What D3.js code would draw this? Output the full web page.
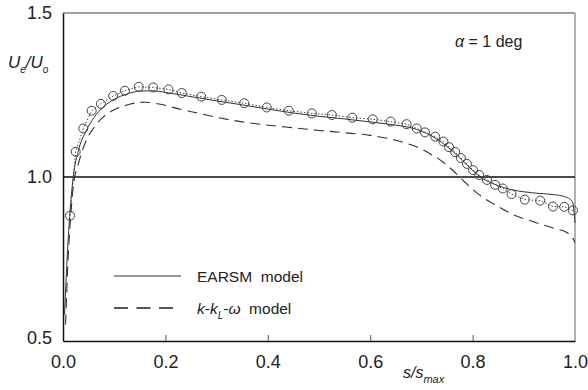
<!DOCTYPE html>
<html><head><meta charset="utf-8">
<script src="https://cdn.jsdelivr.net/npm/d3@7"></script>
<style>body{margin:0;background:#fff}svg{display:block}text{font-family:"Liberation Sans",Arial,sans-serif;fill:#222}</style>
</head><body><svg id="c" width="588" height="390"></svg>
<script>
const xTicks=[0,0.2,0.4,0.6,0.8,1.0];
const yTicks=[0.5,1.0,1.5];
const expX=[0.0137,0.0248,0.0396,0.056,0.074,0.098,0.121,0.148,0.176,0.206,0.232,0.270,0.310,0.354,0.398,0.441,0.486,0.525,0.565,0.605,0.640,0.671,0.691,0.707,0.727,0.743,0.754,0.766,0.777,0.789,0.801,0.813,0.828,0.844,0.859,0.876,0.902,0.932,0.957,0.979,0.996];
const expY=[0.882,1.077,1.148,1.202,1.223,1.247,1.263,1.275,1.273,1.267,1.256,1.245,1.235,1.225,1.212,1.202,1.194,1.189,1.181,1.176,1.169,1.161,1.148,1.136,1.123,1.108,1.091,1.076,1.058,1.040,1.021,1.006,0.991,0.976,0.965,0.948,0.931,0.928,0.910,0.909,0.898];
const earsmX=[0.003,0.008,0.013,0.02,0.03,0.045,0.06,0.08,0.1,0.125,0.15,0.175,0.2,0.25,0.3,0.35,0.4,0.45,0.5,0.55,0.6,0.65,0.68,0.7,0.72,0.74,0.76,0.78,0.8,0.82,0.84,0.86,0.88,0.9,0.93,0.96,0.98,0.995,1.0];
const earsmY=[0.58,0.75,0.88,1.0,1.08,1.14,1.18,1.215,1.237,1.253,1.262,1.263,1.258,1.245,1.232,1.22,1.207,1.195,1.185,1.177,1.168,1.158,1.15,1.14,1.125,1.105,1.08,1.05,1.02,0.995,0.98,0.968,0.96,0.955,0.95,0.946,0.94,0.925,0.86];
const kklX=[0.005,0.01,0.015,0.02,0.03,0.045,0.06,0.08,0.1,0.13,0.16,0.19,0.22,0.26,0.3,0.35,0.4,0.45,0.5,0.55,0.6,0.65,0.68,0.7,0.72,0.74,0.76,0.78,0.8,0.82,0.85,0.88,0.92,0.96,0.985,0.995,1.0];
const kklY=[0.55,0.75,0.88,0.97,1.04,1.11,1.15,1.185,1.205,1.222,1.228,1.222,1.21,1.196,1.182,1.168,1.158,1.15,1.142,1.135,1.127,1.112,1.098,1.085,1.068,1.048,1.022,0.992,0.962,0.938,0.91,0.885,0.863,0.843,0.83,0.815,0.80];

const svg=d3.select("#c");
const x=d3.scaleLinear().domain([0,1]).range([63,575]);
const y=d3.scaleLinear().domain([0.5,1.5]).range([341,13]);

// frame
svg.append("line").attr("x1",63).attr("x2",575).attr("y1",13).attr("y2",13).attr("stroke","#444").attr("stroke-width",1);
svg.append("line").attr("x1",575).attr("x2",575).attr("y1",13).attr("y2",341).attr("stroke","#999").attr("stroke-width",1.5);
svg.append("line").attr("x1",x(0)).attr("x2",x(1)).attr("y1",y(1)).attr("y2",y(1)).attr("stroke","#111").attr("stroke-width",1.3);

const gx=svg.append("g").attr("transform",`translate(0,${y(0.5)})`)
  .call(d3.axisBottom(x).tickValues(xTicks).tickSizeInner(-6).tickSizeOuter(0).tickPadding(14).tickFormat(d3.format(".1f")));
gx.select(".domain").attr("stroke","#111").attr("stroke-width",1.5);
gx.selectAll(".tick line").attr("stroke","#555").filter(d=>d===0||d===1).remove();
gx.selectAll("text").attr("font-size",18).attr("fill","#222").attr("font-family","Liberation Sans, Arial, sans-serif");

const gy=svg.append("g").attr("transform",`translate(${x(0)},0)`)
  .call(d3.axisLeft(y).tickValues(yTicks).tickSize(0).tickPadding(11).tickFormat(d3.format(".1f")));
gy.select(".domain").attr("stroke","#111").attr("stroke-width",1.5);
gy.selectAll("text").attr("font-size",18).attr("fill","#222").attr("font-family","Liberation Sans, Arial, sans-serif");
gy.selectAll(".tick").filter(d=>d===0.5).select("text").attr("dy","0.15em");

const lineGen=d3.line().x(d=>x(d[0])).y(d=>y(d[1])).curve(d3.curveMonotoneX);
const earsm=earsmX.map((v,i)=>[v,earsmY[i]]);
const kkl=kklX.map((v,i)=>[v,kklY[i]]);
const exp=expX.map((v,i)=>[v,expY[i]]);

svg.append("path").datum(earsm).attr("d",lineGen).attr("fill","none").attr("stroke","#333").attr("stroke-width",1);
svg.append("path").datum(kkl).attr("d",lineGen).attr("fill","none").attr("stroke","#333").attr("stroke-width",1.1).attr("stroke-dasharray","10,6");
svg.append("path").datum(exp).attr("d",d3.line().x(d=>x(d[0])).y(d=>y(d[1]))).attr("fill","none").attr("stroke","#444").attr("stroke-width",1).attr("stroke-dasharray","1.5,2");
svg.append("g").selectAll("circle").data(exp).join("circle")
  .attr("cx",d=>x(d[0])).attr("cy",d=>y(d[1])).attr("r",4.5)
  .attr("fill","none").attr("stroke","#444").attr("stroke-width",1);

// legend
svg.append("line").attr("x1",114).attr("x2",181).attr("y1",276).attr("y2",276).attr("stroke","#333").attr("stroke-width",1);
svg.append("line").attr("x1",114).attr("x2",181).attr("y1",308).attr("y2",308).attr("stroke","#222").attr("stroke-width",1.3).attr("stroke-dasharray","14,8.5");
svg.append("text").attr("x",197).attr("y",282).attr("font-size",15.5).attr("xml:space","preserve").text("EARSM  model");
const t2=svg.append("text").attr("x",197).attr("y",314).attr("font-size",15.5).attr("xml:space","preserve");
t2.append("tspan").attr("font-style","italic").text("k");
t2.append("tspan").text("-");
t2.append("tspan").attr("font-style","italic").text("k");
t2.append("tspan").attr("font-style","italic").attr("font-size",10).attr("dy",5).text("L");
t2.append("tspan").attr("dy",-5).text("-");
t2.append("tspan").attr("font-style","italic").text("ω");
t2.append("tspan").text("  model");

// alpha annotation
const ta=svg.append("text").attr("x",455).attr("y",47).attr("font-size",16).attr("xml:space","preserve");
ta.append("tspan").attr("font-style","italic").text("α");
ta.append("tspan").text(" = 1 deg");

// y label
const ty=svg.append("text").attr("x",8).attr("y",68).attr("font-size",17).attr("font-style","italic");
ty.append("tspan").text("U");
ty.append("tspan").attr("font-size",10).attr("dy",5).text("e");
ty.append("tspan").attr("dy",-5).text("/U");
ty.append("tspan").attr("font-size",10).attr("dy",5).text("o");

// x label
const tx=svg.append("text").attr("x",403).attr("y",378).attr("font-size",16).attr("font-style","italic");
tx.append("tspan").text("s/s");
tx.append("tspan").attr("font-size",11).attr("dy",5).text("max");
</script></body></html>
